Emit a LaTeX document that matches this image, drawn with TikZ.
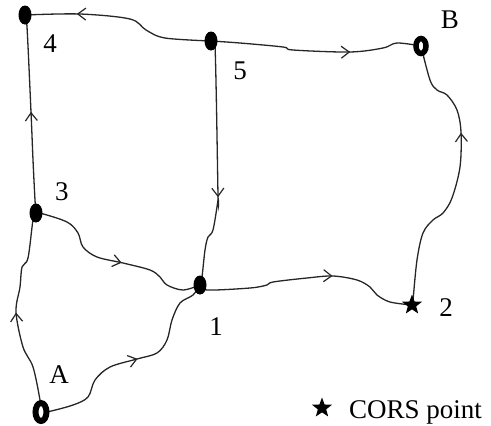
\documentclass[tikz,border=0pt]{standalone}
\usepackage{fontspec}
\setmainfont{Liberation Serif}
\usetikzlibrary{shapes.geometric,arrows.meta,decorations.markings,backgrounds}
\tikzset{
  station/.style={ellipse, fill=black, inner sep=0pt, minimum width=13pt, minimum height=19pt},
  endpoint/.style={ellipse, draw=black, fill=white, line width=5.5pt, inner sep=0pt, minimum width=10pt, minimum height=15pt},
  cors/.style={star, star points=5, star point ratio=2.4, fill=black, inner sep=0pt, minimum size=21pt},
  lbl/.style={font=\fontsize{27}{32}\selectfont, inner sep=0pt, anchor=base},
  route/.style={line width=1.3pt, draw=black!85, smooth, tension=0.55},
  midarrow/.style={postaction={decorate}, decoration={markings,
    mark=at position #1 with {\arrow{Straight Barb[length=8pt,width=12pt,line width=1.2pt]}}}}
}
\begin{document}
\begin{tikzpicture}[x=1pt,y=-1pt]
\useasboundingbox (0,0) rectangle (491,426);

% stations
\node[station] (n4) at (25,15) {};
\node[station] (n5) at (211,41) {};
\node[station] (n3) at (36,213) {};
\node[station] (n1) at (200,285) {};
\node[endpoint] (nB) at (421,46) {};
\node[endpoint, minimum width=11pt, minimum height=18pt, line width=6pt] (nA) at (41,412) {};
\node[cors] (n2) at (412,305) {};

% station labels
\node[lbl] (l4) at (50,52) {4};
\node[lbl] (l5) at (240,79) {5};
\node[lbl] (lB) at (450,28) {B};
\node[lbl] (l3) at (62,200) {3};
\node[lbl] (l1) at (216,335) {1};
\node[lbl] (l2) at (446,316) {2};
\node[lbl] (lA) at (59,383) {A};

% legend
\node[cors] (legstar) at (322,408) {};
\node[lbl, anchor=base west] (legtext) at (349,418) {CORS point};

% observed baselines
\begin{scope}[on background layer]
\draw[route, midarrow=0.73] plot coordinates {(n5.center) (165,38) (146,30) (130,19) (80,14) (n4.center)};
\draw[route, midarrow=0.66] plot coordinates {(n5.center) (240,43) (283,47) (293,50) (350,52) (383,48) (397,43) (nB.center)};
\draw[route, midarrow=0.65] plot coordinates {(n2.center) (413,300) (417,260) (423,233) (433,220) (443,213) (452,198) (460,167) (461,132) (457,110) (447,95) (437,90) (430,80) (nB.center)};
\draw[route, midarrow=0.61] plot coordinates {(n1.center) (207,290) (250,288) (267,285) (273,282) (307,278) (333,276) (357,280) (370,287) (377,295) (390,302) (n2.center)};
\draw[route, midarrow=0.63] plot coordinates {(n5.center) (215,45) (218,195) (218,200) (213,230) (208,237) (205,250) (202,277) (n1.center)};
\draw[route, midarrow=0.51] plot coordinates {(n3.center) (35,200) (33,160) (31,112) (27,27) (n4.center)};
\draw[route, midarrow=0.50] plot coordinates {(nA.center) (40,400) (33,367) (23,347) (16,312) (20,287) (22,267) (28,258) (33,220) (n3.center)};
\draw[route, midarrow=0.55] plot coordinates {(n3.center) (40,213) (67,222) (78,233) (83,247) (97,257) (123,263) (150,270) (160,277) (167,285) (183,290) (n1.center)};
\draw[route, midarrow=0.53] plot coordinates {(nA.center) (47,412) (73,405) (88,397) (95,380) (110,367) (137,359) (157,353) (167,340) (172,320) (180,303) (193,295) (n1.center)};
\end{scope}
\end{tikzpicture}
\end{document}
